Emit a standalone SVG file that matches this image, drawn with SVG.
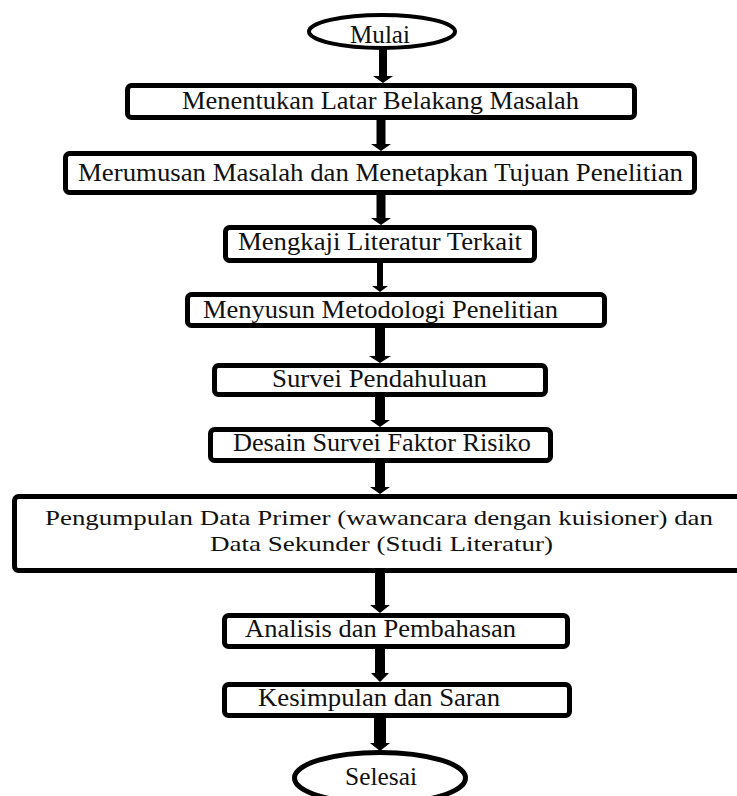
<svg xmlns="http://www.w3.org/2000/svg" width="737" height="796" viewBox="0 0 737 796">
<style>
.box{fill:#fff;stroke:#000;stroke-width:5}
.term{fill:#fff;stroke:#000;stroke-width:4}
.lbl{font-family:"Liberation Serif","Times New Roman",serif;font-size:24.5px;fill:#111;text-anchor:middle}
.sm{font-size:22px}
.arr{fill:#000;stroke:none}
</style>
<rect width="737" height="796" fill="#fff"/>
<g id="connectors">
<path class="arr" d="M379 48V76H373L383 83L393 76H387V48Z"/>
<path class="arr" d="M376.5 120V144H371L381 151L391 144H385.5V120Z"/>
<path class="arr" d="M376.5 195V218H371L381 225L391 218H385.5V195Z"/>
<path class="arr" d="M377 263V286H372L380 292L388 286H383V263Z"/>
<path class="arr" d="M375 328V356H369L380 363L391 356H385V328Z"/>
<path class="arr" d="M375 397V420H370L380 427L390 420H385V397Z"/>
<path class="arr" d="M375 463V487H370L380 494L390 487H385V463Z"/>
<path class="arr" d="M375 573V605H370L380 613L390 605H385V573Z"/>
<path class="arr" d="M375 649V673H371L380 682L389 673H385V649Z"/>
<path class="arr" d="M374 718V743H370L380 751L390 743H386V718Z"/>
</g>
<g id="start">
<ellipse class="term" cx="382" cy="31.5" rx="73" ry="16.5"/>
<text class="lbl" x="380" y="43" textLength="60" lengthAdjust="spacingAndGlyphs">Mulai</text>
</g>
<g id="n1">
<rect class="box" x="127.5" y="85.5" width="507" height="32" rx="4"/>
<text class="lbl" x="380.5" y="109" textLength="397" lengthAdjust="spacingAndGlyphs">Menentukan Latar Belakang Masalah</text>
</g>
<g id="n2">
<rect class="box" x="65.5" y="153.5" width="629" height="39" rx="4"/>
<text class="lbl" x="380.5" y="181" textLength="605" lengthAdjust="spacingAndGlyphs">Merumusan Masalah dan Menetapkan Tujuan Penelitian</text>
</g>
<g id="n3">
<rect class="box" x="225.5" y="227.5" width="309" height="33" rx="4"/>
<text class="lbl" x="380" y="250" textLength="284" lengthAdjust="spacingAndGlyphs">Mengkaji Literatur Terkait</text>
</g>
<g id="n4">
<rect class="box" x="187.5" y="294.5" width="417" height="31" rx="4"/>
<text class="lbl" x="380.5" y="318" textLength="355" lengthAdjust="spacingAndGlyphs">Menyusun Metodologi Penelitian</text>
</g>
<g id="n5">
<rect class="box" x="214.5" y="365.5" width="331" height="29" rx="4"/>
<text class="lbl" x="379.5" y="387" textLength="215" lengthAdjust="spacingAndGlyphs">Survei Pendahuluan</text>
</g>
<g id="n6">
<rect class="box" x="210.5" y="429.5" width="340" height="31" rx="4"/>
<text class="lbl" x="382" y="451" textLength="298" lengthAdjust="spacingAndGlyphs">Desain Survei Faktor Risiko</text>
</g>
<g id="n7">
<rect class="box" x="14.5" y="496.5" width="740" height="74" rx="4"/>
<text class="lbl sm" x="379" y="525" textLength="668" lengthAdjust="spacingAndGlyphs">Pengumpulan Data Primer (wawancara dengan kuisioner) dan</text>
<text class="lbl sm" x="381.5" y="551" textLength="343" lengthAdjust="spacingAndGlyphs">Data Sekunder (Studi Literatur)</text>
</g>
<g id="n8">
<rect class="box" x="224.5" y="615.5" width="343" height="31" rx="4"/>
<text class="lbl" x="380.5" y="637" textLength="271" lengthAdjust="spacingAndGlyphs">Analisis dan Pembahasan</text>
</g>
<g id="n9">
<rect class="box" x="224.5" y="684.5" width="345" height="31" rx="4"/>
<text class="lbl" x="379" y="706" textLength="242" lengthAdjust="spacingAndGlyphs">Kesimpulan dan Saran</text>
</g>
<g id="end">
<ellipse class="term" cx="380" cy="778" rx="85.5" ry="25.5" style="stroke-width:5"/>
<text class="lbl" x="381" y="785" textLength="72" lengthAdjust="spacingAndGlyphs">Selesai</text>
</g>
</svg>
